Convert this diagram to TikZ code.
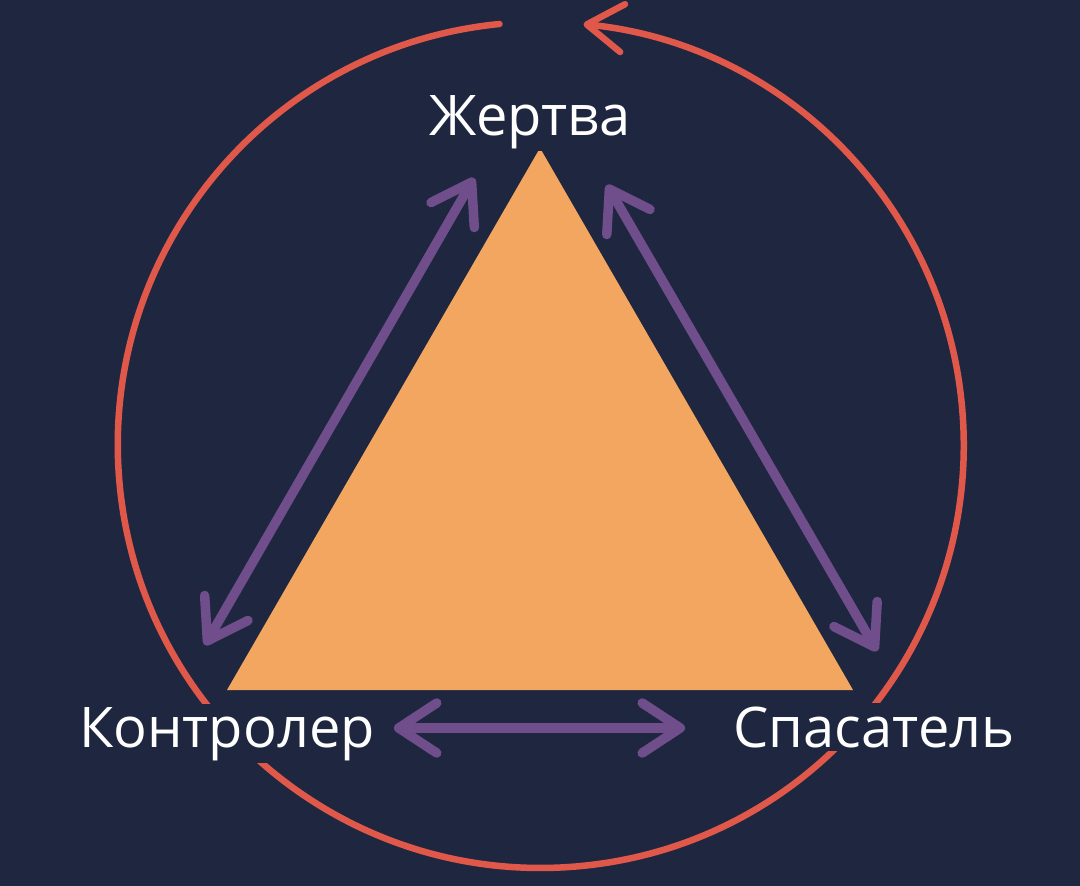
\documentclass[tikz,border=0pt]{standalone}
\usepackage{fontspec}
\setmainfont{Open Sans}
\usetikzlibrary{arrows.meta}
\definecolor{bgc}{HTML}{1F2740}
\definecolor{tri}{HTML}{F3A65F}
\definecolor{pur}{HTML}{6F4E8B}
\definecolor{redc}{HTML}{E0584A}
\tikzset{
  lbl/.style={text=white, fill=bgc, inner sep=3pt, anchor=base, font=\fontsize{56}{60}\selectfont},
  barb/.tip={Straight Barb[length=38pt,width=50pt,round]},
  dual/.style={draw=pur, line width=9.5pt, line cap=round, barb-barb},
  cyc/.style={draw=redc, line width=6.5pt, line cap=round, -{Straight Barb[length=36pt,width=48pt,round]}},
  tribox/.style={fill=tri, draw=none}
}
\begin{document}
\begin{tikzpicture}[x=1pt,y=-1pt]
\fill[bgc] (0,0) rectangle (1080,886);
\useasboundingbox (0,0) rectangle (1080,886);
% cycle circle
\coordinate (cc) at (540.5,445);
\coordinate (cstart) at (499.5,24);
\draw[cyc] (cstart) arc[start angle=264.4, end angle=-84.2, radius=423];
% triangle
\coordinate (ta) at (540,148);
\coordinate (tl) at (227,690);
\coordinate (tr) at (853,690);
\path[tribox] (ta) -- (tr) -- (tl) -- cycle;
% labels
\node[lbl] (victim) at (530,135) {Жертва};
\node[lbl] (ctrl) at (227,747) {Контролер};
\node[lbl] (saver) at (874,747) {Спасатель};
% arrow end points
\coordinate (l1) at (474,178);
\coordinate (l2) at (205,645);
\coordinate (r1) at (607,185);
\coordinate (r2) at (877,651);
\coordinate (b1) at (394,728);
\coordinate (b2) at (685,728);
\draw[dual] (l1) -- (l2);
\draw[dual] (r1) -- (r2);
\draw[dual] (b1) -- (b2);
\end{tikzpicture}
\end{document}
